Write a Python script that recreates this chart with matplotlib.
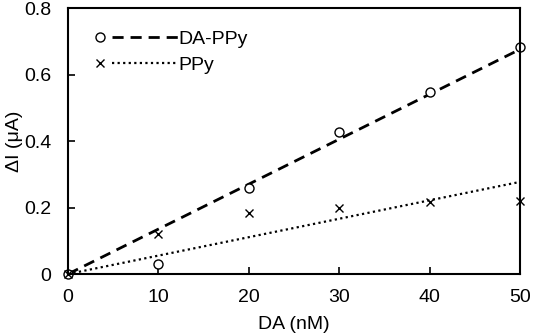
import numpy as np
import matplotlib
matplotlib.use("Agg")
import matplotlib.pyplot as plt
from matplotlib.lines import Line2D
from matplotlib.legend_handler import HandlerBase
from matplotlib.ticker import FuncFormatter

plt.rcParams['font.family'] = ['Liberation Sans', 'DejaVu Sans']

conc = np.array([0, 10, 20, 30, 40, 50])
da_ppy = np.array([0, 0.03, 0.26, 0.427, 0.547, 0.683])
ppy = np.array([0, 0.12, 0.183, 0.198, 0.217, 0.22])


class MarkerThenLine(HandlerBase):
    # marker on the left, line after it (Excel-style legend)
    def create_artists(self, legend, orig_handle, xdescent, ydescent,
                       width, height, fontsize, trans):
        mk, ln = orig_handle
        y = height / 2 - ydescent
        x0 = -xdescent
        m = Line2D([x0 + 0.05 * width], [y])
        self.update_prop(m, mk, legend)
        l = Line2D([x0 + 0.2 * width, x0 + width], [y, y])
        self.update_prop(l, ln, legend)
        m.set_transform(trans)
        l.set_transform(trans)
        return [m, l]


fig = plt.figure(figsize=(5.33, 3.35), dpi=100)
ax = fig.add_axes([0.1276, 0.182, 0.848, 0.794])

# linear trendlines through the origin
s1 = np.sum(conc * da_ppy) / np.sum(conc ** 2)
s2 = np.sum(conc * ppy) / np.sum(conc ** 2)
xfit = np.array([0, 50])

l1, = ax.plot(xfit, s1 * xfit, color='black', ls=(0, (4, 2.5)), lw=2)
l2, = ax.plot(xfit, s2 * xfit, color='black', ls=(0, (1, 1.5)), lw=1.6)
m1, = ax.plot(conc, da_ppy, 'o', mfc='white', mec='black', ms=6.5, mew=1, ls='none', clip_on=False)
m2, = ax.plot(conc, ppy, 'x', color='black', ms=6, mew=1, ls='none', clip_on=False)

ax.set_xlim(0, 50)
ax.set_ylim(0, 0.8)
ax.set_xticks(np.arange(0, 51, 10))
ax.set_yticks(np.arange(0, 0.81, 0.2))
ax.yaxis.set_major_formatter(FuncFormatter(lambda v, p: '0' if abs(v) < 1e-9 else f'{v:.1f}'))
ax.tick_params(direction='in', length=5, width=1.2, labelsize=14)
ax.tick_params(axis='x', pad=11)
ax.tick_params(axis='y', pad=12)
for sp in ax.spines.values():
    sp.set_linewidth(1.5)

ax.set_xlabel('DA (nM)', fontsize=14, labelpad=7)
ax.set_ylabel('ΔI (μA)', fontsize=14, labelpad=1)

ax.legend([(m1, l1), (m2, l2)], ['DA-PPy', 'PPy'],
          handler_map={tuple: MarkerThenLine()},
          loc='upper left', bbox_to_anchor=(0.062, 0.915), frameon=False,
          borderpad=0, borderaxespad=0,
          fontsize=14, handlelength=4.2, handletextpad=0.05, labelspacing=0.4)

plt.savefig('out.png', dpi=100)
